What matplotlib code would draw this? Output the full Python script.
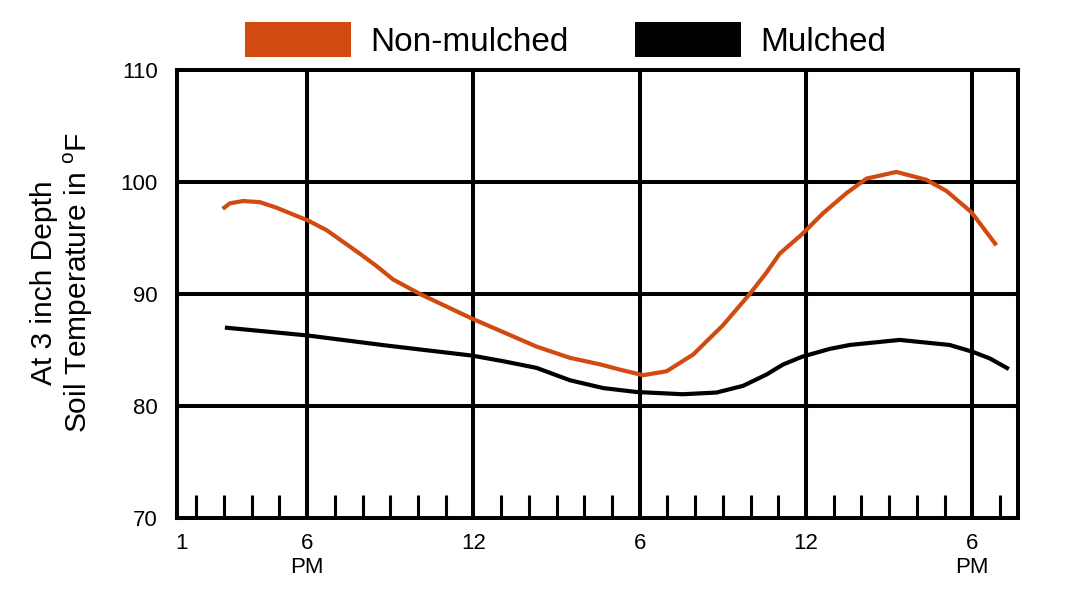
"""Soil temperature at 3 inch depth, mulched vs non-mulched"""

import matplotlib.pyplot as plt
from matplotlib.patches import Patch

plt.rcParams['font.family'] = ['Liberation Sans', 'DejaVu Sans']
plt.rcParams['mathtext.fontset'] = 'custom'
plt.rcParams['mathtext.rm'] = 'Liberation Sans'

# hours counted from 0 = noon of the first day (1 PM = 1, 6 PM = 5 ...)
hours_non = [1.95, 2.21, 2.69, 3.29, 3.90, 4.49, 5.04, 5.70, 6.30, 6.90, 7.50,
             8.10, 9.07, 10.95, 12.07, 13.28, 14.48, 15.60, 16.28, 17.12,
             17.97, 18.93, 20.0, 20.97, 21.57, 22.05, 22.84, 23.61, 24.46,
             25.18, 26.26, 27.34, 28.07, 28.97, 29.87]
temp_non = [97.6, 98.1, 98.3, 98.2, 97.7, 97.1, 96.55, 95.7, 94.65, 93.6, 92.5,
            91.3, 90.0, 87.8, 86.6, 85.3, 84.3, 83.7, 83.25, 82.75,
            83.1, 84.6, 87.2, 90.0, 91.9, 93.6, 95.3, 97.2, 99.0,
            100.3, 100.9, 100.2, 99.2, 97.3, 94.35]

hours_mul = [2.03, 5.0, 7.86, 10.95, 12.07, 13.28, 14.48, 15.68, 16.88, 18.55,
             19.77, 20.73, 21.57, 22.17, 22.86, 23.86, 24.58, 26.38, 28.18,
             29.0, 29.63, 30.32]
temp_mul = [87.0, 86.3, 85.4, 84.5, 84.0, 83.4, 82.3, 81.6, 81.25, 81.05,
            81.2, 81.8, 82.8, 83.7, 84.4, 85.1, 85.45, 85.9, 85.45,
            84.85, 84.25, 83.3]

major_hours = [5, 11, 17, 23, 29]
minor_hours = [1, 2, 3, 4, 6, 7, 8, 9, 10, 12, 13, 14, 15, 16, 18, 19, 20, 21,
               22, 24, 25, 26, 27, 28, 30]
xtick_pos = [0.48, 5, 11, 17, 23, 29]
xtick_labels = ["1", "6\nPM", "12", "6", "12", "6\nPM"]
y_ticks = [70, 80, 90, 100, 110]

orange = '#d14a10'

fig = plt.figure(figsize=(10.81, 6.13), dpi=100)
ax = fig.add_axes([0.1637, 0.155, 0.778, 0.7308])

# grid drawn by hand, heavy black lines
for h in major_hours:
    ax.axvline(h, color='black', lw=2.9, zorder=1)
for t in [80, 90, 100]:
    ax.axhline(t, color='black', lw=2.9, zorder=1)
ax.vlines(minor_hours, 70, 72.05, color='black', lw=2.2, zorder=1)

ax.plot(hours_non, temp_non, color=orange, lw=3.0, zorder=3,
        solid_capstyle='butt', solid_joinstyle='round')
ax.plot(hours_mul, temp_mul, color='black', lw=3.0, zorder=3,
        solid_capstyle='butt', solid_joinstyle='round')

ax.set_xlim(0.30, 30.65)
ax.set_ylim(70, 110)
for s in ax.spines.values():
    s.set_linewidth(2.9)
ax.set_yticks(y_ticks)
ax.set_yticklabels([str(v) for v in y_ticks])
ax.set_xticks(xtick_pos)
ax.set_xticklabels(xtick_labels, linespacing=1.2)
ax.tick_params(axis='both', length=0, labelsize=16)
ax.tick_params(axis='y', pad=14)
ax.tick_params(axis='x', pad=11)

fig.text(44 / 1081, 1 - 283 / 613, "At 3 inch Depth", rotation=90,
         ha='center', va='center', fontsize=21.5)
fig.text(78 / 1081, 1 - 283 / 613, r"Soil Temperature in $^{\mathrm{o}}$F",
         rotation=90, ha='center', va='center', fontsize=21.5)

handles = [Patch(facecolor=orange, edgecolor='none', label='Non-mulched'),
           Patch(facecolor='black', edgecolor='none', label='Mulched')]
fig.legend(handles=handles, loc='center', bbox_to_anchor=(0.523, 0.935),
           ncol=2, frameon=False, fontsize=24, handlelength=3.18,
           handleheight=1.24, handletextpad=0.57, columnspacing=2.0)

fig.savefig('out.png', dpi=100)
